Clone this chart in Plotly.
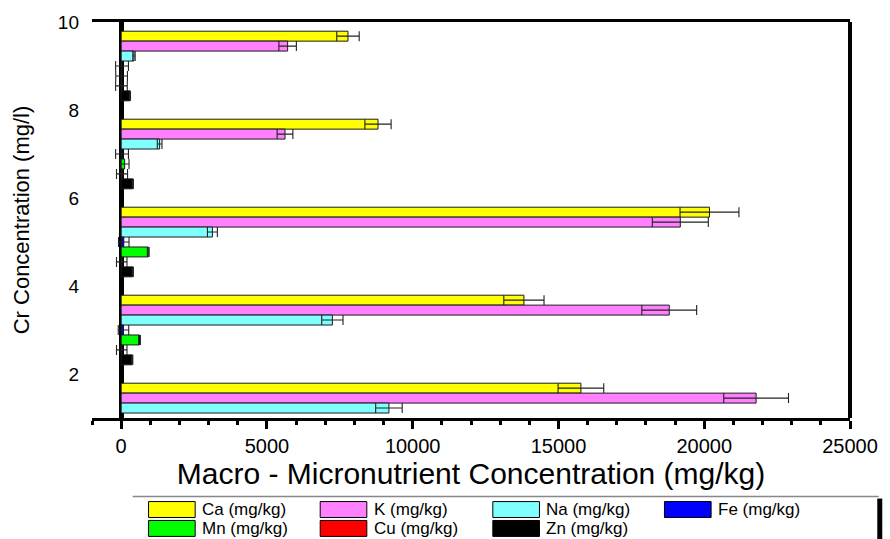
import plotly.graph_objects as go

# Cr concentration groups: position on the y axis and tick labels
group_pos = [1, 3, 5, 7, 9]
y_ticks = [2, 4, 6, 8, 10]
x_ticks = [0, 5000, 10000, 15000, 20000, 25000]

# Element names (legend order, drawn top to bottom inside each group)
elements = ["Ca (mg/kg)", "K (mg/kg)", "Na (mg/kg)", "Fe (mg/kg)",
            "Mn (mg/kg)", "Cu (mg/kg)", "Zn (mg/kg)"]
colors = ["#FFFF00", "#FF80FF", "#80FFFF", "#0000FF",
          "#00FF00", "#FF0000", "#000000"]

# Mean concentrations (mg/kg), one value per group (bottom to top)
ca = [15770, 13815, 20180, 8810, 7780]
k = [21780, 18800, 19180, 5620, 5710]
na = [9185, 7245, 3130, 1320, 440]
fe = [None, 80, 90, 30, 30]
mn = [None, 630, 930, 120, 15]
cu = [None, 20, 20, 30, 10]
zn = [None, 380, 400, 400, 300]

# Standard deviations (mg/kg)
ca_err = [783, 690, 1010, 450, 385]
k_err = [1110, 940, 960, 270, 300]
na_err = [455, 365, 170, 80, 40]
fe_err = [None, 180, 180, 220, 220]
mn_err = [None, 30, 30, 150, 200]
cu_err = [None, 180, 180, 190, 200]
zn_err = [None, 20, 20, 20, 20]

values = [ca, k, na, fe, mn, cu, zn]
errors = [ca_err, k_err, na_err, fe_err, mn_err, cu_err, zn_err]

FONT = "Liberation Sans, Arial, sans-serif"
bar_w = 0.226
half = 3.5 * bar_w

fig = go.Figure()
for i, (name, col, vals, errs) in enumerate(zip(elements, colors, values, errors)):
    fig.add_trace(go.Bar(
        name=name,
        y=group_pos,
        x=vals,
        orientation="h",
        width=bar_w,
        offset=half - (i + 1) * bar_w,
        marker=dict(color=col, line=dict(color="#1a1a1a", width=1)),
        error_x=dict(type="data", array=errs, visible=True,
                     color="#222222", thickness=1.1, width=5),
        showlegend=False,
    ))

# plot area in pixels
L, R, T, B = 92, 856, 20, 418
W, H = 890, 539


def px_x(px):
    return (px - L) / (R - L)


def px_y(py):
    return (B - py) / (B - T)


shapes = [
    # right frame edge
    dict(type="line", xref="paper", yref="paper", x0=1, x1=1, y0=0, y1=1,
         line=dict(color="black", width=4)),
    # legend box: top edge and shadowed right edge
    dict(type="line", xref="paper", yref="paper",
         x0=px_x(133), x1=px_x(885), y0=px_y(497), y1=px_y(497),
         line=dict(color="#888888", width=1.5)),
    dict(type="line", xref="paper", yref="paper",
         x0=px_x(886), x1=px_x(886), y0=px_y(499), y1=px_y(545),
         line=dict(color="black", width=5)),
]
annotations = []

# hand-built legend: 4 columns in the first row, 3 in the second
col_x = [149, 322, 496, 669]
row_y = [510, 529]
sw_w, sw_h = 47, 16
for i, (name, col) in enumerate(zip(elements, colors)):
    r, c = divmod(i, 4)
    x0 = col_x[c]
    yc = row_y[r]
    shapes.append(dict(type="rect", xref="paper", yref="paper",
                       x0=px_x(x0), x1=px_x(x0 + sw_w),
                       y0=px_y(yc + sw_h / 2), y1=px_y(yc - sw_h / 2),
                       fillcolor=col, line=dict(color="black", width=1)))
    annotations.append(dict(xref="paper", yref="paper",
                            x=px_x(x0 + sw_w + 6), y=px_y(yc),
                            text=name, showarrow=False,
                            xanchor="left", yanchor="middle",
                            borderpad=0,
                            font=dict(family=FONT, size=17, color="black")))

fig.update_layout(
    width=W, height=539,
    margin=dict(l=L, r=W - R, t=T, b=H - B),
    paper_bgcolor="white", plot_bgcolor="white",
    barmode="overlay",
    font=dict(family=FONT, color="black"),
    shapes=shapes,
    annotations=annotations,
    xaxis=dict(
        range=[-1000, 25000],
        tickvals=x_ticks,
        ticktext=[str(v) for v in x_ticks],
        ticks="outside", ticklen=8, tickwidth=3, tickcolor="black",
        minor=dict(dtick=1000, tick0=0, ticks="outside", ticklen=4,
                   tickwidth=3, tickcolor="black"),
        showline=True, linecolor="black", linewidth=3, mirror=True,
        showgrid=False,
        zeroline=True, zerolinecolor="black", zerolinewidth=5,
        tickfont=dict(family=FONT, size=20),
        title=dict(text="Macro - Micronutrient Concentration (mg/kg)",
                   font=dict(family=FONT, size=30), standoff=3),
    ),
    yaxis=dict(
        range=[1, 10],
        tickvals=y_ticks,
        ticks="", showline=False, showgrid=False, zeroline=False,
        ticklabelstandoff=12,
        tickfont=dict(family=FONT, size=19),
        title=dict(text="Cr Concentration (mg/l)",
                   font=dict(family=FONT, size=22), standoff=22),
    ),
)

fig.write_html("out.html")
